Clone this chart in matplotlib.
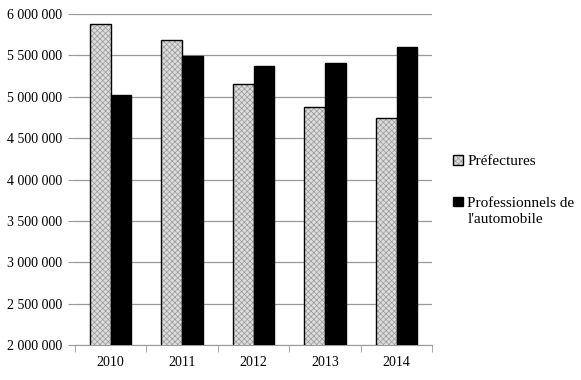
import numpy as np
import matplotlib.pyplot as plt
from matplotlib.ticker import FuncFormatter

plt.rcParams['font.family'] = ['Liberation Serif', 'DejaVu Serif']
plt.rcParams['hatch.linewidth'] = 0.5

years = ['2010', '2011', '2012', '2013', '2014']
prefectures = [5880000, 5690000, 5150000, 4880000, 4740000]
professionnels = [5020000, 5490000, 5370000, 5410000, 5600000]

fig = plt.figure(figsize=(5.81, 3.80), dpi=100)
ax = fig.add_axes([0.129, 0.092, 0.615, 0.871])

x = np.arange(len(years))
w = 0.29
b1 = ax.bar(x - w / 2, prefectures, w, color='#dcdcdc', edgecolor='black',
            linewidth=1.0, hatch='xxxxxx', label='Préfectures', zorder=3)
for p in b1:
    p._hatch_color = (0.6, 0.6, 0.6, 1)
ax.bar(x + w / 2, professionnels, w, color='black', edgecolor='black',
       linewidth=1.0, label='Professionnels de', zorder=3)

ax.set_ylim(2000000, 6000000)
ax.set_xlim(-0.5, 4.5)
ax.set_yticks(np.arange(2000000, 6000001, 500000))
ax.yaxis.set_major_formatter(FuncFormatter(lambda v, p: f'{int(v):,}'.replace(',', ' ')))
ax.yaxis.grid(True, color='#9a9a9a', linewidth=0.9, zorder=0)
ax.set_xticks(x)
ax.set_xticklabels(years)
ax.set_xticks(np.arange(-0.5, 5, 1), minor=True)
ax.tick_params(axis='x', which='major', length=0, pad=8, labelsize=10)
ax.tick_params(axis='x', which='minor', length=5, color='#9a9a9a', direction='out')
ax.tick_params(axis='y', length=5, color='#9a9a9a', labelsize=10, pad=4)

for s in ['top', 'right', 'left']:
    ax.spines[s].set_visible(False)
ax.spines['bottom'].set_color('#9a9a9a')

leg = fig.legend(loc='upper left', bbox_to_anchor=(0.77, 0.608), frameon=False,
                 fontsize=11, handlelength=0.6, handleheight=0.6, handletextpad=0.3,
                 labelspacing=1.85, borderaxespad=0)
fig.canvas.draw()
t = leg.get_texts()[1]
bb = t.get_window_extent()
fig.text(bb.x0 / fig.bbox.width, (bb.y0 - 16) / fig.bbox.height, "l'automobile",
         fontsize=11, ha='left', va='bottom')

fig.savefig('out.png', dpi=100)
